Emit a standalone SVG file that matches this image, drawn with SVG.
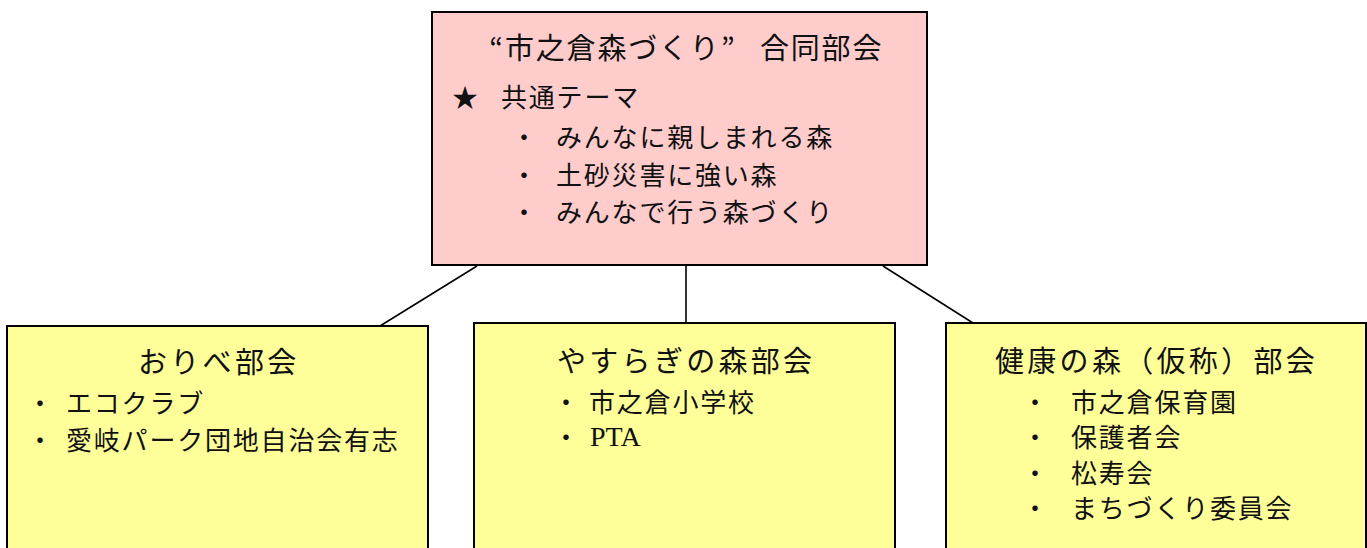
<svg xmlns="http://www.w3.org/2000/svg" width="1367" height="548" viewBox="0 0 1367 548">
<style>
.box{stroke:#000;stroke-width:2}
.pink{fill:#FFCCCC}
.yel{fill:#FFFF99}
.conn{stroke:#000;stroke-width:1.6;fill:none}
text{font-family:"Noto Sans CJK JP","Noto Sans CJK SC",sans-serif;fill:#111}
.title{font-size:29px;letter-spacing:3.3px}
.ttl{font-size:29px;letter-spacing:1.8px}
.body{font-size:26px;letter-spacing:1.8px}
</style>
<rect width="1367" height="548" fill="#fff"/>
<g id="connectors">
<line class="conn" x1="477" y1="266" x2="380" y2="326"/>
<line class="conn" x1="686" y1="266" x2="686" y2="323"/>
<line class="conn" x1="883" y1="266" x2="973" y2="323"/>
</g>
<g id="node-main">
<rect class="box pink" x="432" y="12" width="495" height="253"/>
<text class="ttl" x="503" y="59" text-anchor="end" style="letter-spacing:0">“</text>
<text class="ttl" x="505" y="59">市之倉森づくり</text>
<text class="ttl" x="721" y="59" style="letter-spacing:0">”</text>
<text class="ttl" x="760" y="59">合同部会</text>
<text class="body" x="452" y="107">★</text>
<text class="body" x="501" y="107">共通テーマ</text>
<text class="body" x="511" y="147">・</text>
<text class="body" x="556" y="147">みんなに親しまれる森</text>
<text class="body" x="511" y="185">・</text>
<text class="body" x="556" y="185">土砂災害に強い森</text>
<text class="body" x="511" y="222">・</text>
<text class="body" x="556" y="222">みんなで行う森づくり</text>
</g>
<g id="node-oribe">
<rect class="box yel" x="7" y="326" width="421" height="240"/>
<text class="title" x="138" y="373">おりべ部会</text>
<text class="body" x="27" y="413">・</text>
<text class="body" x="66" y="413">エコクラブ</text>
<text class="body" x="27" y="450">・</text>
<text class="body" x="66" y="450">愛岐パーク団地自治会有志</text>
</g>
<g id="node-yasuragi">
<rect class="box yel" x="474" y="323" width="421" height="240"/>
<text class="title" x="557" y="372">やすらぎの森部会</text>
<text class="body" x="553" y="412">・</text>
<text class="body" x="589" y="412">市之倉小学校</text>
<text class="body" x="553" y="447">・</text>
<text x="590" y="446" style="font-family:'Liberation Serif',serif;font-size:28px">PTA</text>
</g>
<g id="node-kenko">
<rect class="box yel" x="946" y="323" width="420" height="240"/>
<text class="title" x="995" y="372">健康の森（仮称）部会</text>
<text class="body" x="1022" y="412">・</text>
<text class="body" x="1071" y="412">市之倉保育園</text>
<text class="body" x="1022" y="447">・</text>
<text class="body" x="1071" y="447">保護者会</text>
<text class="body" x="1022" y="483">・</text>
<text class="body" x="1071" y="483">松寿会</text>
<text class="body" x="1022" y="518">・</text>
<text class="body" x="1071" y="518">まちづくり委員会</text>
</g>
</svg>
